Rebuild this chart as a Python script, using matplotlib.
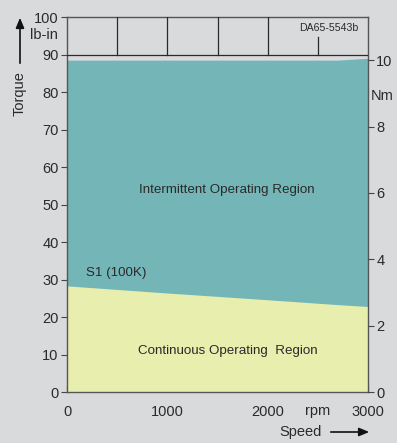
import numpy as np
import matplotlib
matplotlib.use("Agg")
import matplotlib.pyplot as plt

plt.rcParams['font.family'] = ['Liberation Sans', 'DejaVu Sans']

# === Data ===
speed = [0, 1000, 2000, 2700, 3000]            # rpm
continuous = [28.3, 26.4, 24.6, 23.3, 22.8]     # lb-in, S1 (100K)
intermittent = [88.5, 88.5, 88.5, 88.5, 89.0]   # lb-in
x_ticks = [0, 1000, 2000, 3000]
x_minor = [500, 1500, 2500]
y_ticks = [0, 10, 20, 30, 40, 50, 60, 70, 80, 90, 100]
nm_ticks = [0, 2, 4, 6, 8, 10]
NM_TO_LBIN = 8.85

BG = '#d9dadc'
TEAL = '#74b6b7'
YELLOW = '#e8eeae'
DARK = '#2a2a2a'
FS = 10.5

fig = plt.figure(figsize=(3.97, 4.43), dpi=100, facecolor=BG)
ax = fig.add_axes([0.1688, 0.1151, 0.927 - 0.1688, 0.9616 - 0.1151])
ax.set_facecolor(BG)

ax.fill_between(speed, 0, intermittent, color=TEAL, lw=0, zorder=1)
ax.fill_between(speed, 0, continuous, color=YELLOW, lw=0, zorder=2)

ax.set_xlim(0, 3000)
ax.set_ylim(0, 100)

# grid in the 90-100 band
ax.axhline(90, color=DARK, lw=0.9, zorder=3)
for xv in [500, 1000, 1500, 2000]:
    ax.plot([xv, xv], [90, 100], color=DARK, lw=0.9, zorder=3)
ax.plot([2500, 2500], [90, 94.6], color=DARK, lw=0.9, zorder=3)

for s in ax.spines.values():
    s.set_color('#555555')
    s.set_linewidth(1.0)

ax.set_xticks(x_ticks)
ax.set_xticks(x_minor, minor=True)
ax.set_yticks(y_ticks)
ax.tick_params(axis='x', direction='in', length=4, color='#444444', labelsize=FS,
               pad=9, labelcolor=DARK)
ax.tick_params(axis='x', which='minor', direction='in', length=3, color='#888888')
ax.tick_params(axis='y', direction='out', length=4, color='#444444', labelsize=FS,
               pad=2, labelcolor=DARK)

# right axis in Nm
ax2 = ax.twinx()
ax2.set_ylim(0, 100 / NM_TO_LBIN)
ax2.set_yticks(nm_ticks)
ax2.tick_params(axis='y', direction='out', length=4, color='#444444', labelsize=FS,
                pad=2, labelcolor=DARK)
for s in ax2.spines.values():
    s.set_visible(False)

# labels
ax.text(1595, 54, 'Intermittent Operating Region', ha='center', va='center',
        fontsize=9.6, color=DARK)
ax.text(1600, 11, 'Continuous Operating  Region', ha='center', va='center',
        fontsize=9.6, color=DARK)
ax.text(190, 31.8, 'S1 (100K)', ha='left', va='center', fontsize=9.6, color=DARK)
ax.text(2610, 95.8, 'DA65-5543b', ha='center', va='bottom', fontsize=7.6, color=DARK)

fig.text(44 / 397, 1 - 35 / 443, 'lb-in', ha='center', va='center', fontsize=FS, color=DARK)
fig.text(382 / 397, 1 - 96 / 443, 'Nm', ha='center', va='center', fontsize=FS, color=DARK)
fig.text(318 / 397, 1 - 411 / 443, 'rpm', ha='center', va='center', fontsize=FS, color=DARK)
fig.text(301 / 397, 1 - 432 / 443, 'Speed', ha='center', va='center', fontsize=FS, color=DARK)
fig.text(20 / 397, 1 - 94 / 443, 'Torque', ha='center', va='center', rotation=90,
         fontsize=FS, color=DARK)

# arrows
fig.add_artist(matplotlib.patches.FancyArrowPatch(
    (20 / 397, 1 - 66 / 443), (20 / 397, 1 - 15 / 443), transform=fig.transFigure,
    arrowstyle='-|>,head_length=6,head_width=2.5', color='#111111', lw=1.2))
fig.add_artist(matplotlib.patches.FancyArrowPatch(
    (328 / 397, 1 - 432 / 443), (372 / 397, 1 - 432 / 443), transform=fig.transFigure,
    arrowstyle='-|>,head_length=6,head_width=2.5', color='#111111', lw=1.2))

fig.savefig('out.png', dpi=100, facecolor=BG)
